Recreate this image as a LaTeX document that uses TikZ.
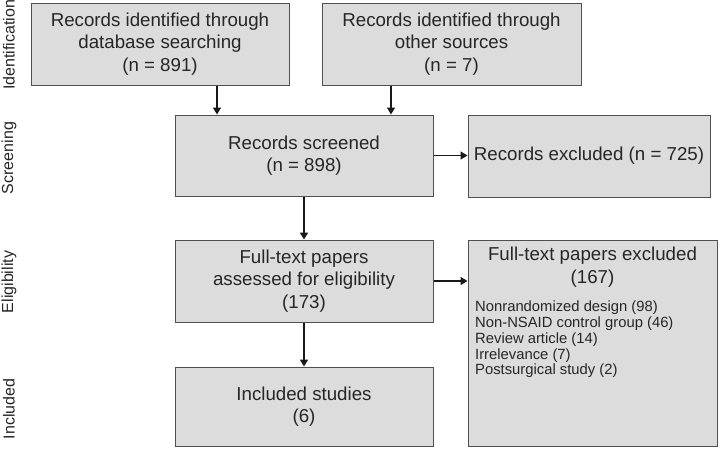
\documentclass[tikz,border=0pt]{standalone}
\usepackage{fontspec}
\setmainfont{Liberation Sans}
\usetikzlibrary{arrows.meta}
\definecolor{boxfill}{HTML}{DCDCDC}
\definecolor{boxline}{HTML}{505050}
\definecolor{txt}{HTML}{262626}
\tikzset{
  box/.style={draw=boxline, fill=boxfill, line width=1pt, inner sep=0pt,
    align=center, text=txt, font=\fontsize{18.7}{22.5}\selectfont},
  arr/.style={draw=black!90, line width=1.5pt, -{Triangle[length=7pt,width=8pt]}},
  side/.style={rotate=90, text=txt, font=\fontsize{16}{18}\selectfont, inner sep=0pt},
  small/.style={text=txt, font=\fontsize{14.8}{15.7}\selectfont, align=left, inner sep=0pt, anchor=north west},
}
\begin{document}
\begin{tikzpicture}[x=1pt,y=-1pt]
\useasboundingbox (0,0) rectangle (720,448);
% boxes
\node[box, minimum width=258pt, minimum height=82pt] (b1) at (160,44) {Records identified through\\database searching\\(n = 891)};
\node[box, minimum width=259pt, minimum height=82pt] (b2) at (451.5,44) {Records identified through\\other sources\\(n = 7)};
\node[box, minimum width=258pt, minimum height=81pt] (scr) at (304,155.5) {Records screened\\(n = 898)};
\node[box, minimum width=242pt, minimum height=82pt] (ex1) at (589,156) {Records excluded (n = 725)};
\node[box, minimum width=258pt, minimum height=82pt] (ft) at (304,281) {Full-text papers\\assessed for eligibility\\(173)};
\node[box, minimum width=249pt, minimum height=206pt] (ex2) at (592.5,343) {};
\node[box, draw=none, fill=none, anchor=north] (ex2t) at (ex2.north) [yshift=-7pt] {Full-text papers excluded\\(167)};
\node[small] (ex2l) at (475,301) {Nonrandomized design (98)\\Non-NSAID control group (46)\\Review article (14)\\Irrelevance (7)\\Postsurgical study (2)};
\node[box, minimum width=258pt, minimum height=79pt] (inc) at (304,406.5) {Included studies\\(6)};
% side labels
\node[side] (l1) at (9,45) {Identification};
\node[side] (l2) at (9,158) {Screening};
\node[side] (l3) at (9,282) {Eligibility};
\node[side] (l4) at (9,409) {Included};
% arrows
\coordinate (c1) at (217,0);
\coordinate (c2) at (391,0);
\draw[arr] (b1.south -| c1) -- (scr.north -| c1);
\draw[arr] (b2.south -| c2) -- (scr.north -| c2);
\draw[arr] (scr.east) -- (ex1.west |- scr.east);
\draw[arr] (scr.south) -- (ft.north);
\draw[arr] (ft.east) -- (ex2.west |- ft.east);
\draw[arr] (ft.south) -- (inc.north);
\end{tikzpicture}
\end{document}
